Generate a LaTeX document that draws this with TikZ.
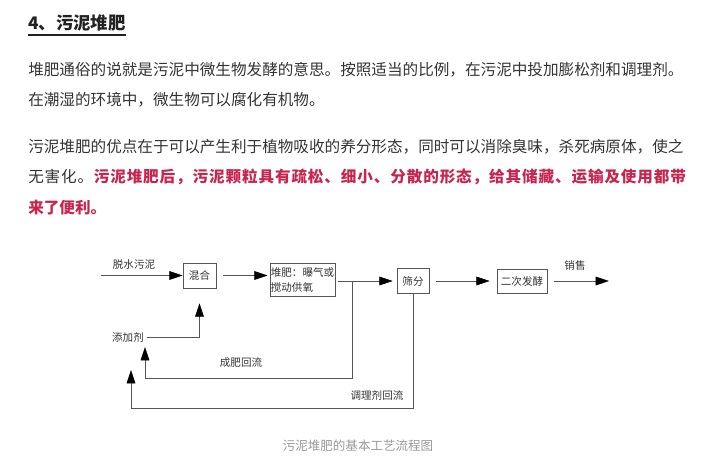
\documentclass[tikz,border=0pt]{standalone}
\usepackage{fontspec}
\setmainfont{Noto Sans CJK SC}
\usetikzlibrary{arrows.meta, positioning}
\definecolor{INK}{HTML}{333333}
\definecolor{HEAD}{HTML}{222222}
\definecolor{RED}{HTML}{C7254E}
\definecolor{LINE}{HTML}{555555}
\definecolor{GREY}{HTML}{999999}
\newcommand{\bodysize}{\fontsize{11.7pt}{14pt}\selectfont}
\newcommand{\chartsize}{\fontsize{7.9pt}{11.25pt}\selectfont}
\tikzset{
  para/.style={anchor=west, inner sep=0pt, text=INK, font=\bodysize},
  stretched/.style={font=\bodysize\addfontfeatures{LetterSpace=5.6}},
  stage/.style={draw=LINE, thin, inner sep=0pt, font=\chartsize, text=INK},
  tag/.style={inner sep=0pt, font=\chartsize, text=INK},
  flow/.style={LINE, thin, -{Triangle[length=10pt,width=6.5pt,color=black]}},
}

\begin{document}
\begin{tikzpicture}[x=0.75pt, y=-0.75pt]
    \useasboundingbox (0,0) rectangle (714,464);
    \node[para, text=HEAD, font=\fontsize{13pt}{15pt}\selectfont\bfseries] (heading) at (28,23) {4、污泥堆肥};
    \draw[HEAD, line width=1.1pt] ([yshift=-2.5pt]heading.south west) -- ([yshift=-2.5pt]heading.south east);
    \node[para] (lineone) at (28,70) {堆肥通俗的说就是污泥中微生物发酵的意思。按照适当的比例，在污泥中投加膨松剂和调理剂。};
    \node[para] (linetwo) at (28,100) {在潮湿的环境中，微生物可以腐化有机物。};
    \node[para] (linethree) at (28,147) {污泥堆肥的优点在于可以产生利于植物吸收的养分形态，同时可以消除臭味，杀死病原体，使之};
    \node[para, stretched] (linefour) at (28,177) {无害化。};
    \node[para, stretched, text=RED, right=0pt of linefour] (linefourred) {\bfseries 污泥堆肥后，污泥颗粒具有疏松、细小、分散的形态，给其储藏、运输及使用都带};
    \node[para, text=RED] (linefive) at (28,208) {\bfseries 来了便利。};

    \node[stage, minimum width=24.75pt, minimum height=18.75pt] (mix) at (199.5,275.5) {混合};
    \node[stage, minimum width=48.75pt, minimum height=24.75pt, align=left] (pile) at (302.5,279.5) {堆肥：曝气或\\搅动供氧};
    \node[stage, minimum width=24pt, minimum height=18.75pt] (screen) at (413,281) {筛分};
    \node[stage, minimum width=37.5pt, minimum height=18pt] (second) at (522,281) {二次发酵};
    \node[tag] (additive) at (128,337) {添加剂};
    \node[tag] (sludge) at (134,264) {脱水污泥};
    \node[tag] (sale) at (575,265) {销售};
    \node[tag] (backone) at (241,363) {成肥回流};
    \node[tag] (backtwo) at (377,395) {调理剂回流};
    \node[inner sep=0pt, text=GREY, font=\fontsize{9.4pt}{11pt}\selectfont] (caption) at (358,446) {污泥堆肥的基本工艺流程图};

    \coordinate (inlet) at (101,275.5);
    \coordinate (split) at (352,281);
    \coordinate (loopone) at (145,378);
    \coordinate (looptwo) at (131,408);
    \coordinate (market) at (609,281);

    \draw[flow] (inlet) -- (mix);
    \draw[flow] ([xshift=5.25pt]mix.east) -- ([xshift=-1.5pt]mix.east -| pile.west);
    \draw[flow] (pile.east |- screen.west) ++(2.25pt,0) -- ([xshift=-3pt]screen.west);
    \draw[flow] ([xshift=5.25pt]screen.east) -- ([xshift=-5.25pt]second.west);
    \draw[flow] ([xshift=5.25pt]second.east) -- (market);
    \draw[flow] ([xshift=2pt]additive.east) -| ([yshift=-11.25pt]mix.south);
    \draw[flow] (split) |- (loopone) -- ++(0,-31);
    \draw[flow] (screen.south) |- (looptwo) -- ++(0,-38);
\end{tikzpicture}
\end{document}
